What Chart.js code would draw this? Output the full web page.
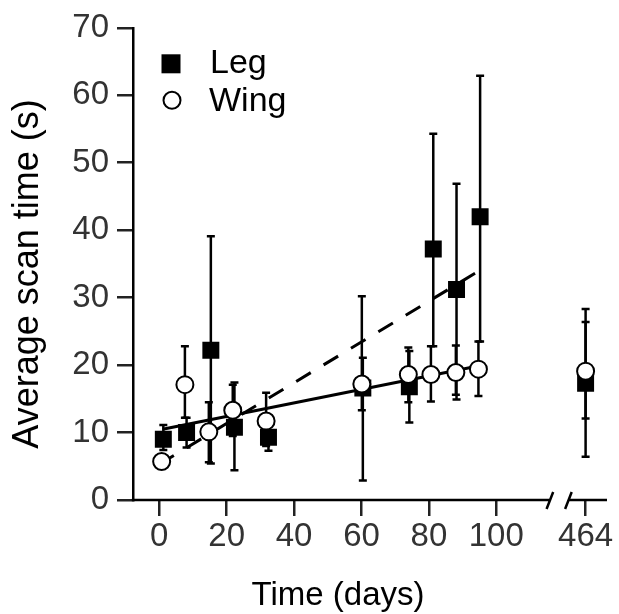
<!DOCTYPE html>
<html>
<head>
<meta charset="utf-8">
<script src="https://cdn.jsdelivr.net/npm/chart.js@4.4.1/dist/chart.umd.min.js"></script>
<style>
  html, body { margin: 0; padding: 0; background: #fff; }
</style>
</head>
<body>
<canvas id="chart" width="619" height="614"></canvas>
<script>
// values
const legDays  = [1.2, 8.1, 15.3, 22.3, 32.4, 60.4, 74.2, 81.3, 88.2, 95.2, 464];
const legMean  = [9.0, 10.0, 22.2, 10.8, 9.3, 16.6, 16.8, 37.2, 31.2, 42.0, 17.3];
const legLow   = [7.4, 7.8, 5.4, 4.4, 7.3, 2.9, 11.5, 22.8, 14.9, 23.5, 6.4];
const legHigh  = [11.1, 12.2, 39.1, 17.4, 11.0, 21.1, 22.1, 54.3, 46.9, 62.9, 26.4];

const wingDays = [0.7, 7.6, 14.7, 21.8, 31.7, 60.1, 73.9, 80.6, 88.0, 94.7, 464];
const wingMean = [5.7, 17.1, 10.1, 13.3, 11.7, 17.2, 18.6, 18.6, 18.9, 19.4, 19.1];
const wingLow  = [4.6, 12.2, 5.6, 9.5, 8.0, 13.3, 14.5, 14.6, 15.6, 15.4, 12.1];
const wingHigh = [6.8, 22.8, 14.5, 17.1, 15.9, 30.2, 22.6, 22.8, 22.9, 23.5, 28.3];

// fitted lines (dashed = leg, solid = wing)
const legFitDays  = [0, 94];
const legFitVals  = [5.3, 33.7];
const wingFitDays = [1, 95];
const wingFitVals = [10.5, 19.9];

const xTickDays = [0, 20, 40, 60, 80, 100, 464];

// broken x axis: day 464 is drawn just after the break
const BREAK_AT = 126.5;
function axisPos(d) { return d > 200 ? BREAK_AT + (d - 464) : d; }

const FONT = "'Liberation Sans', Arial, Helvetica, sans-serif";

function pts(days, vals) {
  return days.map((d, i) => ({ x: axisPos(d), y: vals[i] }));
}

const errorBars = {
  id: 'errorBars',
  beforeDatasetsDraw(chart) {
    const ctx = chart.ctx, xs = chart.scales.x, ys = chart.scales.y;
    const draw = (days, lo, hi) => {
      days.forEach((d, i) => {
        const px = xs.getPixelForValue(axisPos(d));
        const y1 = ys.getPixelForValue(lo[i]);
        const y2 = ys.getPixelForValue(hi[i]);
        ctx.beginPath();
        ctx.moveTo(px, y1); ctx.lineTo(px, y2);
        ctx.moveTo(px - 4, y1); ctx.lineTo(px + 4, y1);
        ctx.moveTo(px - 4, y2); ctx.lineTo(px + 4, y2);
        ctx.stroke();
      });
    };
    ctx.save();
    ctx.strokeStyle = '#000';
    ctx.lineWidth = 2.5;
    draw(legDays, legLow, legHigh);
    draw(wingDays, wingLow, wingHigh);
    ctx.restore();
  }
};

const decor = {
  id: 'decor',
  afterDraw(chart) {
    const ctx = chart.ctx, xs = chart.scales.x, a = chart.chartArea;
    const y0 = a.bottom;
    ctx.save();
    // x axis line with break marks
    ctx.strokeStyle = '#000';
    ctx.lineWidth = 2.5;
    const s1 = xs.getPixelForValue(115.9), s2 = xs.getPixelForValue(121.4);
    ctx.beginPath();
    ctx.moveTo(a.left - 1.2, y0); ctx.lineTo(s1, y0);
    ctx.moveTo(s2, y0); ctx.lineTo(a.right, y0);
    ctx.moveTo(s1 - 3.3, y0 + 9); ctx.lineTo(s1 + 3.3, y0 - 8);
    ctx.moveTo(s2 - 3.3, y0 + 9); ctx.lineTo(s2 + 3.3, y0 - 8);
    ctx.stroke();

    // legend
    const lx = a.left + 38;
    ctx.fillStyle = '#000';
    ctx.fillRect(lx - 9.5, a.top + 26.5, 19, 19);
    ctx.beginPath();
    ctx.arc(lx + 1, a.top + 72.5, 8.5, 0, Math.PI * 2);
    ctx.fillStyle = '#fff';
    ctx.fill();
    ctx.lineWidth = 2;
    ctx.stroke();
    ctx.fillStyle = '#000';
    ctx.font = '34px ' + FONT;
    ctx.textAlign = 'left';
    ctx.textBaseline = 'alphabetic';
    ctx.fillText('Leg', a.left + 77, a.top + 45);
    ctx.fillText('Wing', a.left + 76, a.top + 83);

    // axis titles
    ctx.font = '33px ' + FONT;
    ctx.textAlign = 'center';
    ctx.fillText('Time (days)', 338, 605);
    ctx.translate(37.5, 274);
    ctx.rotate(-Math.PI / 2);
    ctx.font = '36px ' + FONT;
    ctx.fillText('Average scan time (s)', 0, 0);
    ctx.restore();
  }
};

new Chart(document.getElementById('chart').getContext('2d'), {
  type: 'scatter',
  data: {
    datasets: [
      {
        label: 'Wing',
        data: pts(wingDays, wingMean),
        pointStyle: 'circle',
        pointRadius: 8.5,
        pointBorderWidth: 2,
        pointBackgroundColor: '#fff',
        pointBorderColor: '#000',
        order: 0
      },
      {
        label: 'Leg',
        data: pts(legDays, legMean),
        pointStyle: 'rect',
        pointRadius: 12,
        pointBorderWidth: 0,
        pointBackgroundColor: '#000',
        pointBorderColor: '#000',
        order: 1
      },
      {
        label: 'Wing fit',
        type: 'line',
        data: pts(wingFitDays, wingFitVals),
        borderColor: '#000',
        borderWidth: 3,
        pointRadius: 0,
        order: 2
      },
      {
        label: 'Leg fit',
        type: 'line',
        data: pts(legFitDays, legFitVals),
        borderColor: '#000',
        borderWidth: 3,
        borderDash: [17, 15],
        borderCapStyle: 'butt',
        pointRadius: 0,
        order: 3
      }
    ]
  },
  options: {
    responsive: false,
    animation: false,
    devicePixelRatio: 1,
    layout: { padding: { top: 22, right: 12, left: 0, bottom: 0 } },
    plugins: { legend: { display: false }, tooltip: { enabled: false } },
    scales: {
      x: {
        type: 'linear',
        min: -7.8,
        max: 132.85,
        afterFit(scale) { scale.height = 114; },
        afterBuildTicks(scale) { scale.ticks = xTickDays.map(d => ({ value: axisPos(d) })); },
        border: { display: false },
        grid: { drawOnChartArea: false, drawTicks: true, tickLength: 16, tickColor: '#222', lineWidth: 2.5 },
        ticks: {
          color: '#333',
          padding: 1,
          maxRotation: 0,
          font: { family: FONT, size: 33 },
          callback(v) {
            const i = xTickDays.findIndex(d => Math.abs(axisPos(d) - v) < 0.01);
            return i >= 0 ? String(xTickDays[i]) : '';
          }
        }
      },
      y: {
        min: 0,
        max: 70,
        afterFit(scale) { scale.width = 133; },
        border: { display: true, color: '#000', width: 2.5 },
        grid: { drawOnChartArea: false, drawTicks: true, tickLength: 16, tickColor: '#222', lineWidth: 2.5 },
        ticks: {
          stepSize: 10,
          color: '#333',
          padding: 8,
          font: { family: FONT, size: 33 }
        }
      }
    }
  },
  plugins: [errorBars, decor]
});
</script>
</body>
</html>
